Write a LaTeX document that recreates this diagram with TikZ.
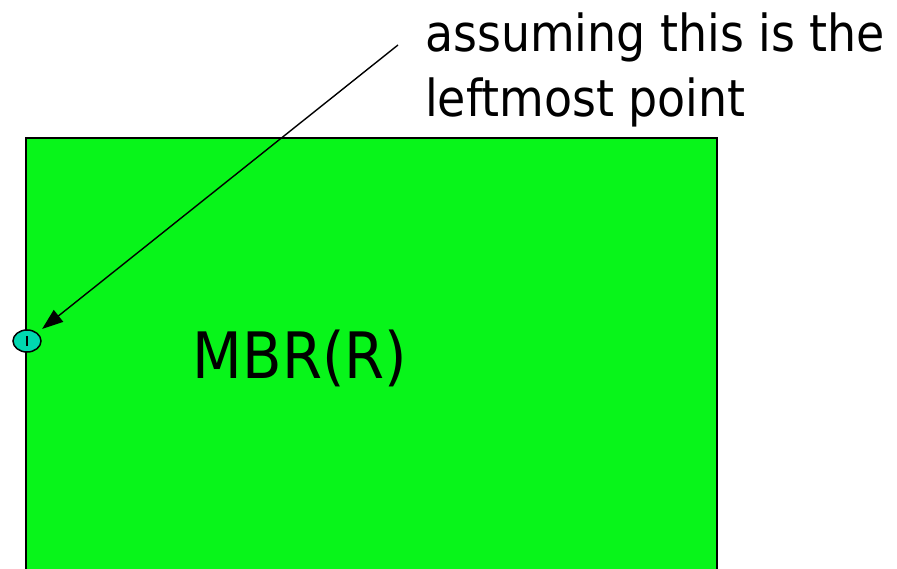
\documentclass[tikz,border=0pt]{standalone}
\usepackage{fontspec}
\setmainfont{DejaVu Sans Condensed}
\usetikzlibrary{arrows.meta,shapes.geometric}
\definecolor{mbrgreen}{HTML}{08F51A}
\definecolor{ptteal}{HTML}{00D8B0}
\tikzset{
  lbltext/.style={font=\fontsize{51}{65}\selectfont, align=left, inner sep=0pt, anchor=base west},
  mbrtext/.style={font=\fontsize{64}{70}\selectfont, inner sep=0pt, anchor=base},
  ptnode/.style={ellipse, draw=black, line width=1.5pt, fill=ptteal, minimum width=28pt, minimum height=22pt, inner sep=0pt},
  pointer/.style={draw=black, line width=1.4pt, -{Triangle[length=21pt,width=15pt]}, shorten >=6pt}
}
\begin{document}
\begin{tikzpicture}[x=1pt,y=-1pt]
\useasboundingbox (0,0) rectangle (897,569);
\fill[mbrgreen] (26,138) rectangle (717,575);
\draw[black, line width=1.5pt] (26,575) -- (26,138) -- (717,138) -- (717,575);
\node[mbrtext] (mbr) at (300,378) {MBR(R)};
\node[ptnode] (pt) at (27,341) {};
\draw[black, line width=1.5pt] (27,336) -- (27,346);
\node[lbltext] (lbl) at (425,117) {assuming this is the\\leftmost point};
\coordinate (src) at (398,45);
\draw[pointer] (src) -- (pt.north east);
\end{tikzpicture}
\end{document}
